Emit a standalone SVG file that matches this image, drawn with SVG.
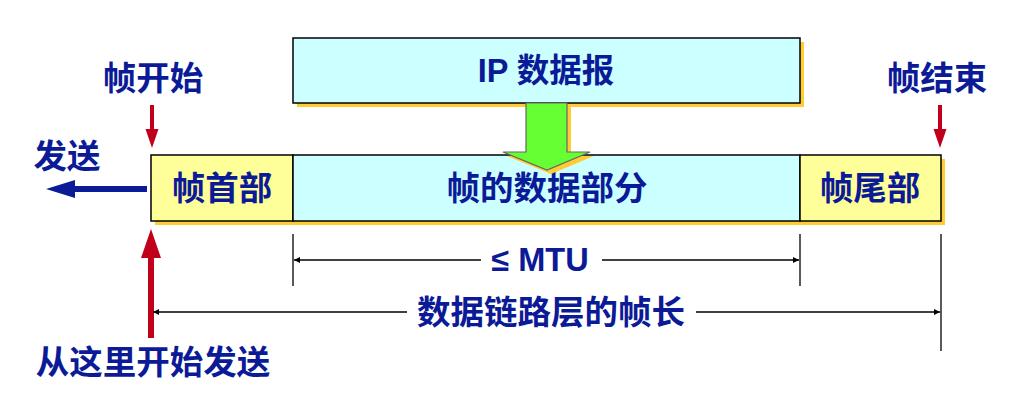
<svg xmlns="http://www.w3.org/2000/svg" width="1010" height="400" viewBox="0 0 1010 400">
<style>
.t{font-family:"Liberation Sans","Noto Sans CJK SC",sans-serif;font-weight:bold;font-size:33.5px;fill:#0b1a96;text-anchor:middle;dominant-baseline:central}
.s{font-size:32.5px}
.box{stroke:#000;stroke-width:1.5}
.sh{fill:#ffcc33}
.dim{stroke:#000;stroke-width:1.3;fill:none}
.red{fill:#c0001a}
</style>
<defs>
<marker id="ah" viewBox="0 0 10 10" refX="10" refY="5" markerWidth="9" markerHeight="6" markerUnits="userSpaceOnUse" orient="auto"><path d="M0,0 L10,5 L0,10 z" fill="#000"/></marker>
</defs>
<rect width="1010" height="400" fill="#fff"/>

<g id="ip-datagram">
<rect class="sh" x="297" y="42" width="507" height="65"/>
<rect class="box" x="293" y="38" width="507" height="65" fill="#ccffff"/>
<text class="t s" x="546" y="71">IP 数据报</text>
</g>

<g id="frame-shadow">
<rect class="sh" x="155" y="159" width="790" height="66"/>
</g>
<g id="frame-header">
<rect class="box" x="151" y="155" width="142" height="66" fill="#ffff99"/>
<text class="t" x="222" y="188">帧首部</text>
</g>
<g id="frame-data">
<rect class="box" x="293" y="155" width="507" height="66" fill="#ccffff"/>
<text class="t" x="547" y="188">帧的数据部分</text>
</g>
<g id="frame-trailer">
<rect class="box" x="800" y="155" width="141" height="66" fill="#ffff99"/>
<text class="t" x="870" y="188">帧尾部</text>
</g>

<g id="green-arrow">
<polygon class="sh" points="530,104 571,104 571,156 594,156 551,174 507,156 530,156"/>
<polygon points="526,103 567,103 567,152 590,152 547,170 503,152 526,152" fill="#66ff33" stroke="#666" stroke-width="1.2"/>
</g>

<g id="label-start">
<text class="t" x="153" y="78">帧开始</text>
</g>
<g id="label-end">
<text class="t" x="937" y="78">帧结束</text>
</g>
<g id="label-send">
<text class="t" x="67" y="156">发送</text>
</g>
<g id="label-send-from-here">
<text class="t" x="153" y="362">从这里开始发送</text>
</g>
<g id="label-mtu">
<text class="t s" x="540" y="260">≤ MTU</text>
</g>
<g id="label-frame-length">
<text class="t" x="551" y="312">数据链路层的帧长</text>
</g>

<g id="connectors">
<!-- red down arrows -->
<rect class="red" x="150" y="105" width="4" height="25"/>
<polygon class="red" points="145.5,129 158.5,129 152,148"/>
<rect class="red" x="938" y="105" width="4" height="25"/>
<polygon class="red" points="933.5,129 946.5,129 940,148"/>
<!-- red up arrow -->
<rect class="red" x="148" y="256" width="6" height="82"/>
<polygon class="red" points="141,258 161,258 151,229"/>
<!-- blue send arrow -->
<rect x="74" y="186" width="73" height="6" fill="#0b1a96"/>
<polygon points="46,189 75,180 75,198" fill="#0b1a96"/>
<!-- MTU dimension -->
<line class="dim" x1="293" y1="234" x2="293" y2="286"/>
<line class="dim" x1="800" y1="234" x2="800" y2="286"/>
<line class="dim" x1="481" y1="260" x2="294" y2="260" marker-end="url(#ah)"/>
<line class="dim" x1="602" y1="260" x2="799" y2="260" marker-end="url(#ah)"/>
<!-- frame length dimension -->
<line class="dim" x1="941" y1="234" x2="941" y2="351"/>
<line class="dim" x1="407" y1="312" x2="153" y2="312" marker-end="url(#ah)"/>
<line class="dim" x1="696" y1="312" x2="940" y2="312" marker-end="url(#ah)"/>
</g>
</svg>
